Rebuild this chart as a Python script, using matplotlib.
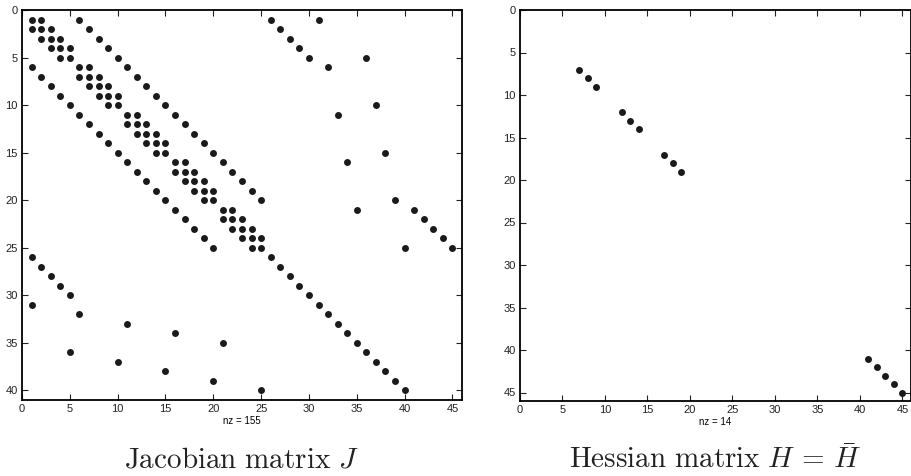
import matplotlib
matplotlib.use('Agg')
import matplotlib.pyplot as plt

plt.rcParams['font.family'] = ['Liberation Sans', 'DejaVu Sans']
plt.rcParams['mathtext.fontset'] = 'cm'

# Jacobian sparsity pattern: nonzero columns for each row (rows 1..40)
jac_cols = [
    [1, 2, 6, 26, 31],
    [1, 2, 3, 7, 27],
    [2, 3, 4, 8, 28],
    [3, 4, 5, 9, 29],
    [4, 5, 10, 30, 36],
    [1, 6, 7, 11, 32],
    [2, 6, 7, 8, 12],
    [3, 7, 8, 9, 13],
    [4, 8, 9, 10, 14],
    [5, 9, 10, 15, 37],
    [6, 11, 12, 16, 33],
    [7, 11, 12, 13, 17],
    [8, 12, 13, 14, 18],
    [9, 13, 14, 15, 19],
    [10, 14, 15, 20, 38],
    [11, 16, 17, 21, 34],
    [12, 16, 17, 18, 22],
    [13, 17, 18, 19, 23],
    [14, 18, 19, 20, 24],
    [15, 19, 20, 25, 39],
    [16, 21, 22, 35, 41],
    [17, 21, 22, 23, 42],
    [18, 22, 23, 24, 43],
    [19, 23, 24, 25, 44],
    [20, 24, 25, 40, 45],
    [1, 26], [2, 27], [3, 28], [4, 29], [5, 30],
    [1, 31], [6, 32], [11, 33], [16, 34], [21, 35],
    [5, 36], [10, 37], [15, 38], [20, 39], [25, 40],
]

# Hessian: diagonal entries only
hess_idx = [7, 8, 9, 12, 13, 14, 17, 18, 19, 41, 42, 43, 44, 45]

jac_r = []
jac_c = []
for i, cols in enumerate(jac_cols):
    for c in cols:
        jac_r.append(i + 1)
        jac_c.append(c)

W, H = 912, 476
fig = plt.figure(figsize=(W / 100, H / 100), dpi=100)

ax1 = fig.add_axes([22 / W, 76 / H, 440 / W, 390 / H])
ax2 = fig.add_axes([520 / W, 75 / H, 391 / W, 391 / H])


def style(ax, xmax, ymax, xt, yt, nz):
    ax.set_xlim(0, xmax)
    ax.set_ylim(ymax, 0)
    ax.set_xticks(xt)
    ax.set_yticks(yt)
    ax.tick_params(direction='in', length=4, width=0.8, labelsize=8,
                   top=True, right=True, colors='#222222', pad=3)
    for s in ax.spines.values():
        s.set_linewidth(1.3)
        s.set_color('black')
    ax.set_xlabel('nz = %d' % nz, fontsize=7, labelpad=1)


ax1.plot(jac_c, jac_r, 'o', color='#1a1a1a', markersize=5, markeredgewidth=0)
style(ax1, 46, 41, range(0, 46, 5), range(0, 41, 5), len(jac_r))

ax2.plot(hess_idx, hess_idx, 'o', color='#1a1a1a', markersize=5, markeredgewidth=0)
style(ax2, 46, 46, range(0, 46, 5), range(0, 46, 5), len(hess_idx))

fig.text(241 / W, 8 / H, r'$\mathrm{Jacobian\ matrix}\ J$', fontsize=21,
         ha='center', va='baseline', color='#222222')
fig.text(715 / W, 8 / H, r'$\mathrm{Hessian\ matrix}\ H\,=\,\bar{H}$', fontsize=21,
         ha='center', va='baseline', color='#222222')

fig.savefig('out.png', dpi=100)
